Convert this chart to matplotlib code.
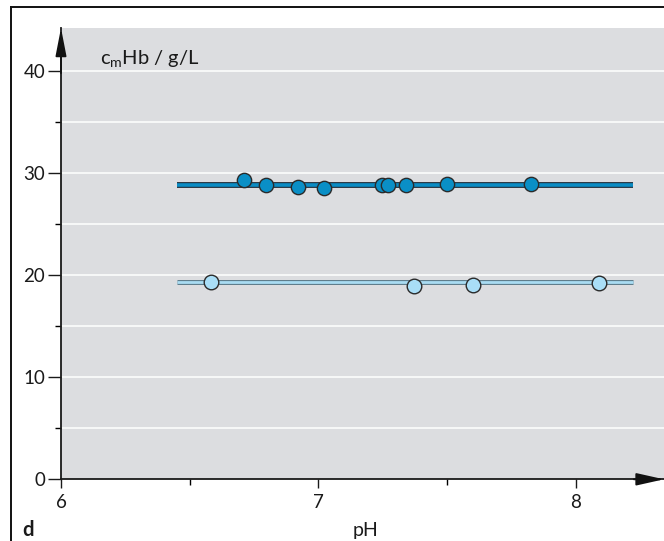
import matplotlib
matplotlib.use("Agg")
import matplotlib.pyplot as plt
from matplotlib.lines import Line2D
from matplotlib.ticker import MultipleLocator

# Data
ph_dark = [6.712, 6.798, 6.920, 7.021, 7.247, 7.270, 7.340, 7.500, 7.827]
hb_dark = [29.3, 28.8, 28.6, 28.5, 28.8, 28.8, 28.75, 28.85, 28.85]
line_dark_x = [6.45, 8.22]
line_dark_y = [28.8, 28.8]

ph_light = [6.581, 7.372, 7.600, 8.090]
hb_light = [19.3, 18.95, 19.0, 19.2]
line_light_x = [6.45, 8.22]
line_light_y = [19.33, 19.33]

xticks = [6, 7, 8]
yticks = [0, 10, 20, 30, 40]

plt.rcParams['font.family'] = ['Lato', 'DejaVu Sans']

W, H = 664, 541
fig = plt.figure(figsize=(W / 100, H / 100), dpi=100)
ax = fig.add_axes([61 / W, 1 - 479.3 / H, (W - 61) / W, (479.3 - 28) / H])
ax.set_facecolor('#dcdde0')
ax.set_xlim(6, 8.342)
ax.set_ylim(0, 44.16)

# gridlines every 5
for g in range(5, 45, 5):
    ax.axhline(g, color='white', lw=1.1, zorder=1)

# lines
ax.plot(line_dark_x, line_dark_y, color='#1f2d3a', lw=4.2, solid_capstyle='butt', zorder=2)
ax.plot(line_dark_x, line_dark_y, color='#0a8cc4', lw=2.6, solid_capstyle='butt', zorder=2)
ax.plot(line_light_x, line_light_y, color='#5f7d8c', lw=3.6, solid_capstyle='butt', zorder=2)
ax.plot(line_light_x, line_light_y, color='#a9dcf3', lw=2.0, solid_capstyle='butt', zorder=2)

ax.plot(ph_dark, hb_dark, 'o', ms=10.3, mfc='#0a8fc6', mec='#2a2a2a', mew=1.0, ls='none', zorder=3)
ax.plot(ph_light, hb_light, 'o', ms=10.5, mfc='#a9def7', mec='#2a2a2a', mew=1.0, ls='none', zorder=3)

for s in ['top', 'right']:
    ax.spines[s].set_visible(False)
for s in ['left', 'bottom']:
    ax.spines[s].set_linewidth(1.3)
    ax.spines[s].set_color('#1a1a1a')

ax.set_xticks(xticks)
ax.set_xticklabels([str(t) for t in xticks])
ax.set_yticks(yticks)
ax.set_yticklabels([str(t) for t in yticks])
ax.xaxis.set_minor_locator(MultipleLocator(0.5))
ax.yaxis.set_minor_locator(MultipleLocator(5))
ax.tick_params(axis='y', which='major', length=9.4, width=1.0, pad=2, labelsize=13.5, colors='#1a1a1a')
ax.tick_params(axis='y', which='minor', length=4.3, width=1.0)
ax.tick_params(axis='x', which='major', length=6.5, width=1.0, pad=4, labelsize=13.5, colors='#1a1a1a')
ax.tick_params(axis='x', which='minor', length=4.3, width=1.0)

# arrows
ax.annotate('', xy=(0, 1.0), xytext=(0, 0.9), xycoords='axes fraction',
            arrowprops=dict(arrowstyle='-|>,head_length=1.7,head_width=0.33', mutation_scale=10,
                            color='#111111', lw=1.3, shrinkA=0, shrinkB=0), annotation_clip=False)
ax.annotate('', xy=(1.0, 0), xytext=(0.95, 0), xycoords='axes fraction',
            arrowprops=dict(arrowstyle='-|>,head_length=1.7,head_width=0.38', mutation_scale=10,
                            color='#111111', lw=1.3, shrinkA=0, shrinkB=0), annotation_clip=False)

# texts
fig.text(100 / W, 1 - 65 / H, r'c$_\mathregular{m}$Hb / g/L', fontsize=14.5, va='baseline', ha='left', color='#1a1a1a')
fig.text(366 / W, 1 - 536 / H, 'pH', fontsize=14, va='baseline', ha='center', color='#1a1a1a')
fig.text(22 / W, 1 - 536 / H, 'd', fontsize=14.5, fontweight='bold', va='baseline', ha='left', color='#1a1a1a')

# outer frame (top and left)
fig.add_artist(Line2D([11 / W, 1], [1 - 7 / H, 1 - 7 / H], transform=fig.transFigure, color='#111111', lw=1.4))
fig.add_artist(Line2D([11 / W, 11 / W], [0, 1 - 7 / H], transform=fig.transFigure, color='#111111', lw=1.4))

fig.savefig('out.png', dpi=100)
